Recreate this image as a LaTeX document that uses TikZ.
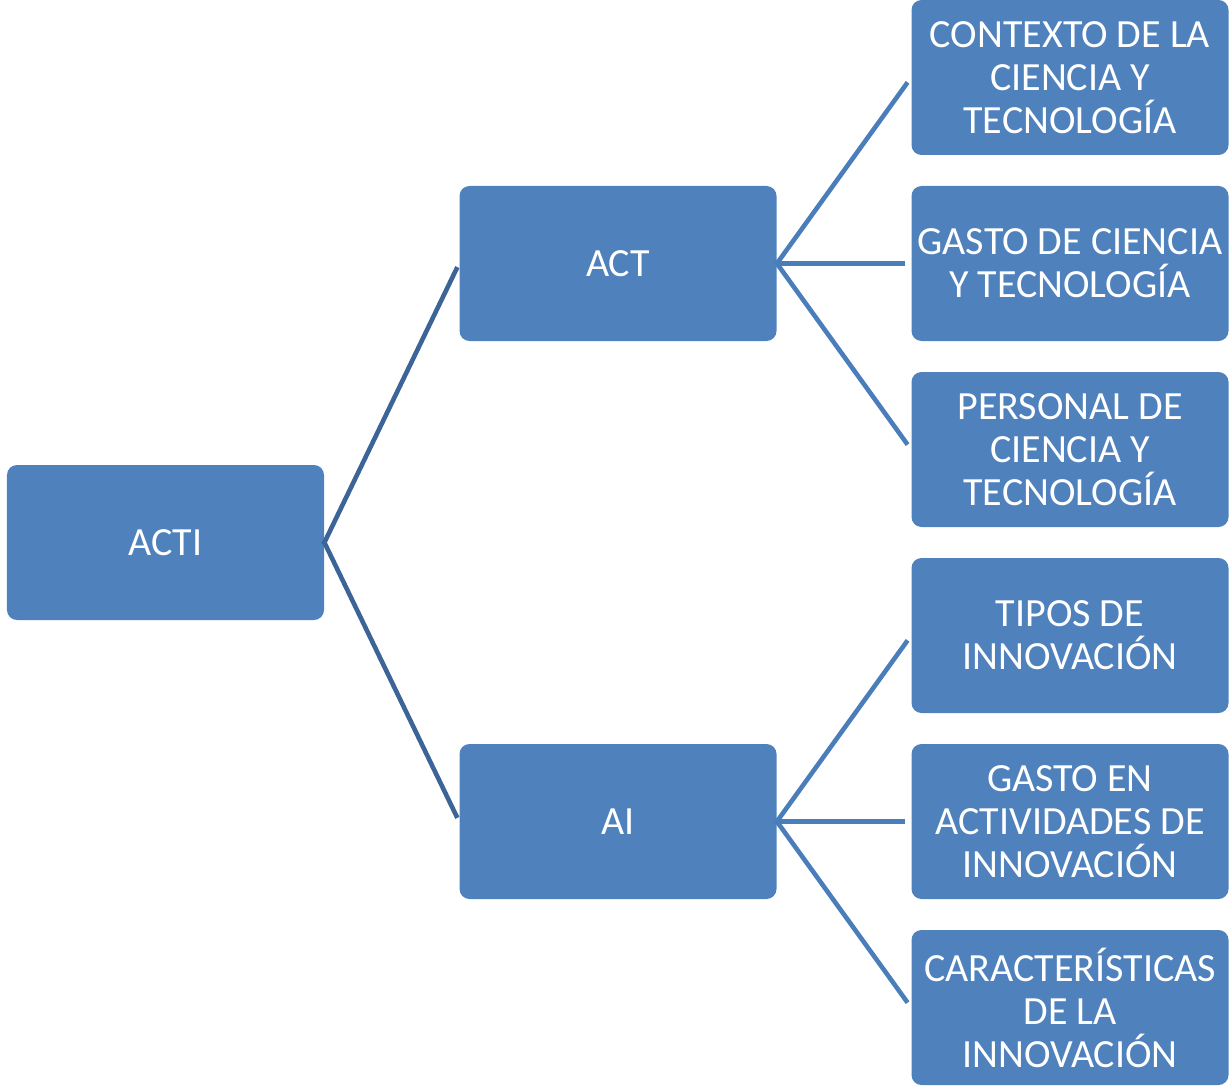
\documentclass[tikz,border=0pt]{standalone}
\usepackage{fontspec}
\setmainfont{Carlito}
\usetikzlibrary{positioning}
\definecolor{boxblue}{HTML}{4F81BD}
\definecolor{linkdark}{HTML}{3C6497}
\definecolor{linklight}{HTML}{4A7EBB}
\tikzset{
    box/.style={
    rectangle,rounded corners=5pt,fill=boxblue,text=white,align=center,
    minimum width=158.5pt,minimum height=77.5pt,inner sep=0pt,
    font=\fontsize{20pt}{21.5pt}\selectfont
    },
    link/.style={
    draw=linkdark,line width=2.3pt
    },
    sublink/.style={
    draw=linklight,line width=2.3pt
    },
}
\begin{document}
\begin{tikzpicture}[node distance=2cm, on grid]
   \useasboundingbox (-82.75pt,-272.25pt) rectangle (531.75pt,271.25pt);
   \node[box] (ACTI) at (0,0) {ACTI};
   \node[box,above right=139.5pt and 226.25pt of ACTI] (ACT) {ACT};
   \node[box,below right=139.5pt and 226.25pt of ACTI] (AI) {AI};

   \node[box,right=226pt of ACT] (GCT) {GASTO DE CIENCIA\\Y TECNOLOGÍA};
   \node[box,above=93pt of GCT] (CCT) {CONTEXTO DE LA\\CIENCIA Y\\TECNOLOGÍA};
   \node[box,below=93pt of GCT] (PCT) {PERSONAL DE\\CIENCIA Y\\TECNOLOGÍA};

   \node[box,right=226pt of AI] (GAI) {GASTO EN\\ACTIVIDADES DE\\INNOVACIÓN};
   \node[box,above=93pt of GAI] (TI) {TIPOS DE\\INNOVACIÓN};
   \node[box,below=93pt of GAI] (CI) {CARACTERÍSTICAS\\DE LA\\INNOVACIÓN};

  \path[link,shorten >=2pt,shorten <=-1pt]
    (ACTI.east) edge (ACT.west)
                edge (AI.west);
  \path[sublink,shorten >=3pt,shorten <=-1pt]
    (ACT.east) edge (CCT.west)
               edge (GCT.west)
               edge (PCT.west)
    (AI.east) edge (TI.west)
              edge (GAI.west)
              edge (CI.west);
\end{tikzpicture}
\end{document}
